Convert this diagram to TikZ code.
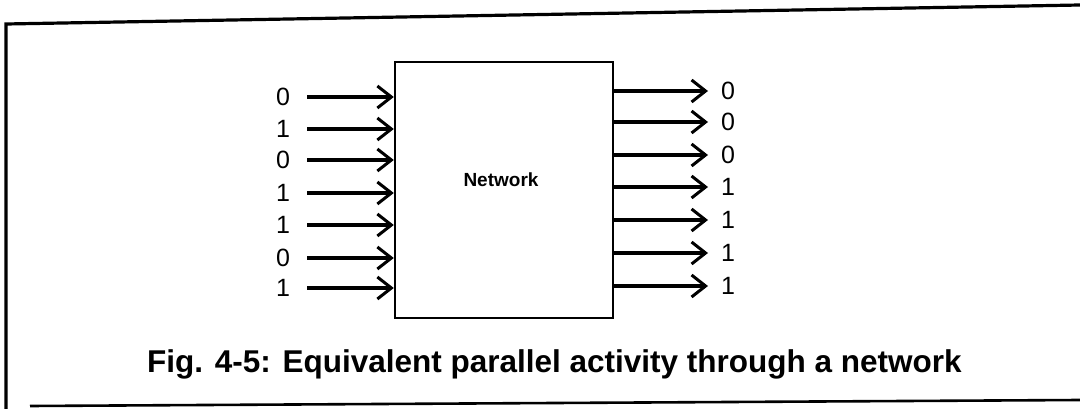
\documentclass[tikz,border=0pt]{standalone}
\usepackage{fontspec}
\setmainfont{Liberation Sans}
\usetikzlibrary{arrows.meta}
\begin{document}
\begin{tikzpicture}[x=1pt,y=-1pt,
  frame/.style={line width=3.2pt,black},
  netbox/.style={draw,line width=2.4pt,minimum width=218pt,minimum height=256pt,inner sep=0pt},
  bit/.style={font=\fontsize{25}{25}\selectfont,inner sep=0pt,anchor=center},
  arr/.style={line width=3.6pt,-{Straight Barb[length=14pt,width=22pt,line width=3pt]}},
  captext/.style={font=\bfseries\fontsize{31.5}{31.5}\selectfont,inner sep=0pt}]
\useasboundingbox (0,0) rectangle (1080,409);
% frame
\coordinate (f1) at (6,24);
\coordinate (f2) at (1080,5);
\coordinate (f3) at (6,409);
\coordinate (f4) at (30,406);
\coordinate (f5) at (1080,400);
\draw[frame] (f3) -- (f1) -- (f2);
\draw[frame,line width=2.6pt] (f4) -- (f5);
% network box
\node[netbox] (net) at (504,190) {};
\node[font=\bfseries\fontsize{19}{19}\selectfont] (lab) at (501,180) {Network};
% inputs
\foreach \v/\y [count=\i] in {0/97,1/129,0/160,1/193,1/225,0/258,1/288}{
  \node[bit] (in\i) at (283,\y) {\v};
  \coordinate (is\i) at (307,\y);
  \draw[arr] (is\i) -- (net.west |- is\i);
}
% outputs
\foreach \v/\y [count=\i] in {0/91,0/122,0/155,1/187,1/220,1/253,1/286}{
  \node[bit] (out\i) at (728,\y) {\v};
  \coordinate (oe\i) at (708,\y);
  \draw[arr] (net.east |- oe\i) -- (oe\i);
}
% caption
\node[captext,anchor=west] (caption) at (147,364) {Fig. 4-5: Equivalent parallel activity through a network};
\end{tikzpicture}
\end{document}
